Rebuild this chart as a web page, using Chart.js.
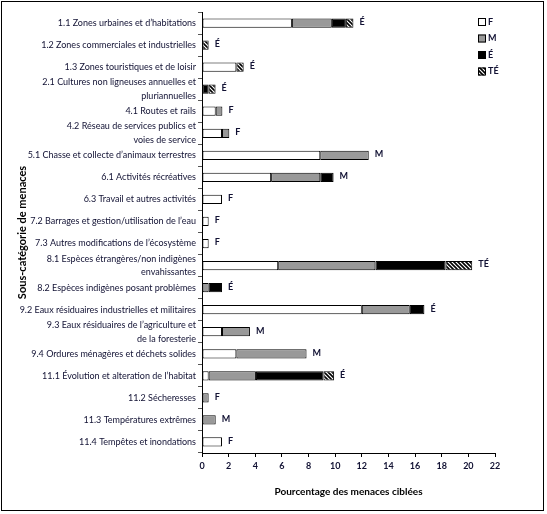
<!DOCTYPE html>
<html><head><meta charset="utf-8">
<script src="https://cdn.jsdelivr.net/npm/chart.js@4.4.0/dist/chart.umd.min.js"></script>
<style>html,body{margin:0;padding:0;background:#fff;}#wrap{width:547px;height:514px;}</style>
</head><body><div id="wrap"><canvas id="c" width="547" height="514"></canvas></div>
<script>
const categories = [
 "1.1 Zones urbaines et d’habitations",
 "1.2 Zones commerciales et industrielles",
 "1.3 Zones touristiques et de loisir",
 ["2.1 Cultures non ligneuses annuelles et", "pluriannuelles"],
 "4.1 Routes et rails",
 ["4.2 Réseau de services publics et", "voies de service"],
 "5.1 Chasse et collecte d’animaux terrestres",
 "6.1 Activités récréatives",
 "6.3 Travail et autres activités",
 "7.2 Barrages et gestion/utilisation de l’eau",
 "7.3 Autres modifications de l’écosystème",
 ["8.1 Espèces étrangères/non indigènes", "envahissantes"],
 "8.2 Espèces indigènes posant problèmes",
 "9.2 Eaux résiduaires industrielles et militaires",
 ["9.3 Eaux résiduaires de l’agriculture et", "de la foresterie"],
 "9.4 Ordures ménagères et déchets solides",
 "11.1 Évolution et alteration de l’habitat",
 "11.2 Sécheresses",
 "11.3 Températures extrêmes",
 "11.4 Tempêtes et inondations"
];
const seriesNames = ["F", "M", "É", "TÉ"];
const valuesF  = [6.75, null, 2.58, null, 1.03, 1.5, 8.88, 5.19, 1.5, 0.5, 0.5, 5.72, null, 12.0, 1.5, 2.58, 0.5, null, null, 1.5];
const valuesM  = [3.0, null, null, null, 0.5, 0.55, 3.64, 3.69, null, null, null, 7.3, 0.5, 3.6, 2.1, 5.27, 3.55, 0.5, 1.03, null];
const valuesE  = [1.05, null, null, 0.5, null, null, null, 1.0, null, null, null, 5.27, 1.0, 1.1, null, null, 5.07, null, null, null];
const valuesTE = [0.57, 0.5, 0.55, 0.52, null, null, null, null, null, null, null, 2.0, null, null, null, null, 0.8, null, null, null];
const statusLabels = ["É", "É", "É", "É", "F", "F", "M", "M", "F", "F", "F", "TÉ", "É", "É", "M", "M", "É", "F", "M", "F"];
const xTicks = [0, 2, 4, 6, 8, 10, 12, 14, 16, 18, 20, 22];

const FONT = "Lato, 'Open Sans', sans-serif";
const TXT = "#111133";

function hatch() {
  const c = document.createElement('canvas');
  c.width = 4; c.height = 4;
  const g = c.getContext('2d');
  g.fillStyle = '#fff'; g.fillRect(0, 0, 4, 4);
  g.strokeStyle = '#000'; g.lineWidth = 1.6;
  for (let k = -1; k <= 1; k++) {
    g.beginPath(); g.moveTo(k * 4 - 1, -1); g.lineTo(k * 4 + 5, 5); g.stroke();
  }
  return g.createPattern(c, 'repeat');
}
const hatchPat = hatch();
const fills = ['#ffffff', '#999999', '#000000', hatchPat];
const seriesData = [valuesF, valuesM, valuesE, valuesTE];

const datasets = seriesNames.map((n, i) => ({
  label: n,
  data: seriesData[i],
  backgroundColor: fills[i],
  borderColor: '#000',
  borderWidth: 1,
  borderSkipped: false,
  barPercentage: 0.42,
  categoryPercentage: 1.0
}));

const frame = {
  id: 'frame',
  afterDraw(chart) {
    const ctx = chart.ctx;
    ctx.save();
    ctx.strokeStyle = '#000'; ctx.lineWidth = 1;
    ctx.strokeRect(1.5, 1.5, 542, 509);
    ctx.restore();
  }
};

const valueLabels = {
  id: 'valueLabels',
  afterDatasetsDraw(chart) {
    const ctx = chart.ctx, xs = chart.scales.x, ys = chart.scales.y;
    ctx.save();
    ctx.font = "bold 9px " + FONT;
    ctx.fillStyle = TXT;
    ctx.textAlign = 'left'; ctx.textBaseline = 'middle';
    categories.forEach((c, i) => {
      let tot = 0;
      seriesData.forEach(s => { tot += (s[i] || 0); });
      ctx.fillText(statusLabels[i], xs.getPixelForValue(tot) + 6, ys.getPixelForValue(i) - 1);
    });
    ctx.restore();
  }
};

const legendBox = {
  id: 'legendBox',
  afterDraw(chart) {
    const ctx = chart.ctx;
    ctx.save();
    ctx.font = "bold 9px " + FONT;
    ctx.textAlign = 'left'; ctx.textBaseline = 'middle';
    seriesNames.forEach((n, i) => {
      const y = 22 + i * 16.5;
      ctx.fillStyle = fills[i];
      ctx.fillRect(478, y - 4, 8, 8);
      ctx.strokeStyle = '#000'; ctx.lineWidth = 1;
      ctx.strokeRect(478.5, y - 3.5, 7, 7);
      ctx.fillStyle = TXT;
      ctx.fillText(n, 488, y);
    });
    ctx.restore();
  }
};

new Chart(document.getElementById('c'), {
  type: 'bar',
  data: { labels: categories, datasets },
  options: {
    indexAxis: 'y',
    responsive: false,
    animation: false,
    devicePixelRatio: 1,
    layout: { padding: { left: 0, right: 52, top: 12, bottom: 0 } },
    plugins: { legend: { display: false }, tooltip: { enabled: false } },
    scales: {
      x: {
        stacked: true, min: 0, max: 22,
        afterBuildTicks(s) { s.ticks = xTicks.map(v => ({ value: v })); },
        afterFit(s) { s.height = 61; },
        grid: { drawOnChartArea: false, drawTicks: true, tickLength: 4, color: '#000' },
        border: { display: true, color: '#000', width: 1 },
        ticks: { font: { family: FONT, size: 9, weight: 'bold' }, color: TXT, padding: 4, maxRotation: 0 },
        title: { display: true, text: 'Pourcentage des menaces ciblées', font: { family: FONT, size: 10, weight: 'bold' }, color: '#000', padding: { top: 0, bottom: 16 } }
      },
      y: {
        stacked: true,
        afterFit(s) { s.width = 202; },
        grid: { drawOnChartArea: false, drawTicks: true, tickLength: 4, offset: true, color: '#555' },
        border: { display: true, color: '#000', width: 1 },
        ticks: { font: { family: FONT, size: 9, lineHeight: 1.55 }, color: TXT, padding: 2, autoSkip: false },
        title: { display: true, text: 'Sous-catégorie de menaces', font: { family: FONT, size: 11, weight: 'bold' }, color: '#000', padding: { top: 16, bottom: 0 } }
      }
    }
  },
  plugins: [frame, valueLabels, legendBox]
});
</script></body></html>
